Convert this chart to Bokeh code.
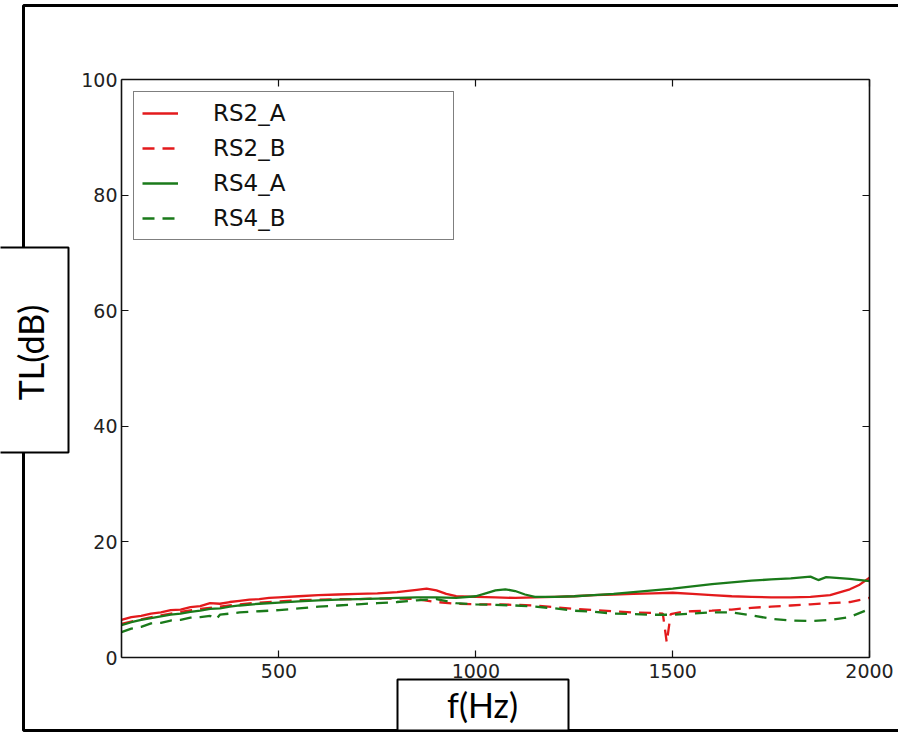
import math
from bokeh.plotting import figure
from bokeh.models import (Range1d, FixedTicker, LinearAxis, BoxAnnotation, Label,
                          CustomJSTickFormatter)
from bokeh.embed import file_html
from bokeh.resources import INLINE

# ---------------- data ----------------
rs2a_f = [100, 125, 150, 175, 200, 225, 250, 275, 300, 325, 350, 375, 400, 425, 450, 475, 500,
          550, 600, 650, 700, 750, 800, 850, 875, 900, 925, 950, 1000, 1050, 1100, 1150, 1200,
          1250, 1300, 1350, 1400, 1450, 1500, 1550, 1600, 1650, 1700, 1750, 1800, 1850, 1900,
          1950, 1975, 2000]
rs2a_tl = [6.5, 7.0, 7.2, 7.6, 7.8, 8.2, 8.3, 8.7, 8.9, 9.4, 9.3, 9.6, 9.8, 10.0, 10.1, 10.3, 10.4,
           10.6, 10.8, 10.9, 11.0, 11.1, 11.3, 11.7, 11.9, 11.6, 11.0, 10.6, 10.5, 10.4, 10.3, 10.4, 10.5,
           10.6, 10.8, 10.9, 11.0, 11.1, 11.2, 11.0, 10.8, 10.6, 10.5, 10.4, 10.4, 10.5, 10.8,
           11.8, 12.6, 13.8]

rs2b_f = [100, 150, 200, 250, 300, 350, 400, 450, 500, 550, 600, 650, 700, 750, 800, 850, 900,
          950, 1000, 1050, 1100, 1150, 1200, 1250, 1300, 1350, 1400, 1450, 1475, 1485, 1495,
          1525, 1550, 1600, 1650, 1700, 1750, 1800, 1850, 1900, 1950, 2000]
rs2b_tl = [5.8, 6.6, 7.3, 7.9, 8.4, 8.8, 9.2, 9.5, 9.7, 9.9, 10.0, 10.1, 10.1, 10.2, 10.2, 10.1, 9.6,
           9.3, 9.2, 9.2, 9.1, 9.0, 8.7, 8.4, 8.2, 8.0, 7.8, 7.7, 7.6, 2.6, 7.5,
           7.9, 8.0, 8.1, 8.3, 8.6, 8.8, 9.0, 9.2, 9.4, 9.6, 10.3]

rs4a_f = [100, 125, 150, 175, 200, 225, 250, 275, 300, 325, 350, 375, 400, 450, 500, 550, 600,
          650, 700, 750, 800, 850, 900, 950, 1000, 1025, 1050, 1075, 1100, 1125, 1150, 1200, 1250,
          1300, 1350, 1400, 1450, 1500, 1550, 1600, 1650, 1700, 1750, 1800, 1850, 1870, 1890,
          1950, 2000]
rs4a_tl = [5.6, 6.1, 6.5, 6.8, 7.1, 7.4, 7.6, 7.9, 8.1, 8.4, 8.5, 8.8, 9.0, 9.3, 9.5, 9.7, 9.9,
           10.0, 10.1, 10.2, 10.3, 10.4, 10.4, 10.3, 10.6, 11.1, 11.6, 11.8, 11.5, 10.9, 10.5, 10.5, 10.6,
           10.8, 11.0, 11.3, 11.6, 11.9, 12.3, 12.7, 13.0, 13.3, 13.5, 13.7, 14.0, 13.4, 13.9,
           13.6, 13.2]

rs4b_f = [100, 125, 150, 175, 200, 225, 250, 275, 300, 325, 340, 350, 375, 400, 450, 500, 550,
          600, 650, 700, 750, 800, 850, 900, 950, 1000, 1050, 1100, 1150, 1200, 1250, 1300, 1350,
          1400, 1450, 1500, 1550, 1600, 1650, 1700, 1750, 1800, 1850, 1900, 1950, 2000]
rs4b_tl = [4.4, 5.0, 5.3, 5.9, 6.0, 6.4, 6.5, 6.9, 7.0, 7.2, 6.6, 7.4, 7.6, 7.8, 8.0, 8.2, 8.5,
           8.8, 9.0, 9.2, 9.4, 9.6, 9.9, 10.1, 9.4, 9.2, 9.1, 9.0, 8.8, 8.5, 8.1, 7.9, 7.6,
           7.5, 7.4, 7.4, 7.6, 7.8, 7.8, 7.3, 6.7, 6.4, 6.3, 6.5, 7.0, 8.4]

x_ticks = [500, 1000, 1500, 2000]
y_ticks = [0, 20, 40, 60, 80, 100]
x_lim = (100, 2000)
y_lim = (0, 100)

RED = "#e31a1c"
GREEN = "#1a7a1a"

# ---------------- layout (pixels on the canvas) ----------------
W, H = 898, 732
FL, FR, FT, FB = 121, 869, 79, 657   # plot box edges

xs = (x_lim[1] - x_lim[0]) / (FR - FL)
ys = (y_lim[1] - y_lim[0]) / (FB - FT)
x0 = x_lim[0] - FL * xs
x1 = x_lim[1] + (W - FR) * xs
y1 = y_lim[1] + FT * ys
y0 = y_lim[0] - (H - FB) * ys


def X(px):
    return x0 + px * xs


def Y(py):
    return y1 - py * ys


p = figure(width=W, height=H, x_range=Range1d(x0, x1), y_range=Range1d(y0, y1),
           output_backend="svg", toolbar_location=None,
           min_border=0, min_border_left=0, min_border_right=0, min_border_top=0, min_border_bottom=0)
p.grid.visible = False
p.outline_line_color = None
p.background_fill_color = "white"
p.border_fill_color = "white"

bottom_axis = p.below[0]
left_axis = p.left[0]
top_axis = LinearAxis()
right_axis = LinearAxis()
p.add_layout(top_axis, "above")
p.add_layout(right_axis, "right")

bottom_axis.fixed_location = y_lim[0]
top_axis.fixed_location = y_lim[1]
left_axis.fixed_location = x_lim[0]
right_axis.fixed_location = x_lim[1]
for ax in [bottom_axis, top_axis]:
    ax.ticker = FixedTicker(ticks=x_ticks)
    ax.bounds = x_lim
for ax in [left_axis, right_axis]:
    ax.ticker = FixedTicker(ticks=y_ticks)
    ax.bounds = y_lim

for ax in [bottom_axis, left_axis, top_axis, right_axis]:
    ax.axis_line_color = "#111111"
    ax.axis_line_width = 1.6
    ax.major_tick_in = 7
    ax.major_tick_out = 0
    ax.major_tick_line_color = "#111111"
    ax.major_tick_line_width = 1.2
    ax.minor_tick_line_color = None
    ax.major_label_text_font = "DejaVu Sans"
    ax.major_label_text_font_size = "19px"
    ax.major_label_text_color = "#222222"
for ax in [top_axis, right_axis]:
    ax.formatter = CustomJSTickFormatter(code="return ''")
bottom_axis.major_label_standoff = 6
left_axis.major_label_standoff = 4

p.line(rs2a_f, rs2a_tl, line_color=RED, line_width=2.3, legend_label="RS2_A")
p.line(rs2b_f, rs2b_tl, line_color=RED, line_width=2.3, line_dash="12 8", legend_label="RS2_B")
p.line(rs4a_f, rs4a_tl, line_color=GREEN, line_width=2.3, legend_label="RS4_A")
p.line(rs4b_f, rs4b_tl, line_color=GREEN, line_width=2.3, line_dash="12 8", legend_label="RS4_B")

lg = p.legend[0]
lg.location = (133, H - 240)
lg.margin = 0
lg.padding = 8
lg.spacing = 9
lg.glyph_width = 36
lg.glyph_height = 26
lg.label_height = 26
lg.label_width = 232
lg.label_standoff = 35
lg.label_text_font = "DejaVu Sans"
lg.label_text_font_size = "23px"
lg.label_text_color = "#111111"
lg.border_line_color = "black"
lg.border_line_width = 1.5
lg.background_fill_alpha = 1.0

# ---------------- outer frame and label boxes ----------------
outer = BoxAnnotation(left=X(23), right=X(1100), top=Y(5), bottom=Y(730),
                      fill_color=None, line_color="black", line_alpha=1.0, line_width=3,
                      level="overlay")
ybox = BoxAnnotation(left=X(-40), right=X(68), top=Y(247), bottom=Y(452),
                     fill_color="white", fill_alpha=1.0, line_color="black", line_alpha=1.0,
                     line_width=2, level="overlay")
xbox = BoxAnnotation(left=X(397), right=X(568), top=Y(679), bottom=Y(730),
                     fill_color="white", fill_alpha=1.0, line_color="black", line_alpha=1.0,
                     line_width=2, level="overlay")
for b in [outer, ybox, xbox]:
    p.add_layout(b)

ylab = Label(x=X(30), y=Y(352), text="TL(dB)", angle=math.pi / 2,
             text_align="center", text_baseline="middle", text_font="Lato", text_font_size="34px",
             text_color="black", level="overlay")
xlab = Label(x=X(482), y=Y(704), text="f(Hz)",
             text_align="center", text_baseline="middle", text_font="Lato", text_font_size="34px",
             text_color="black", level="overlay")
p.add_layout(ylab)
p.add_layout(xlab)

open("out.html", "w").write(file_html(p, INLINE))
